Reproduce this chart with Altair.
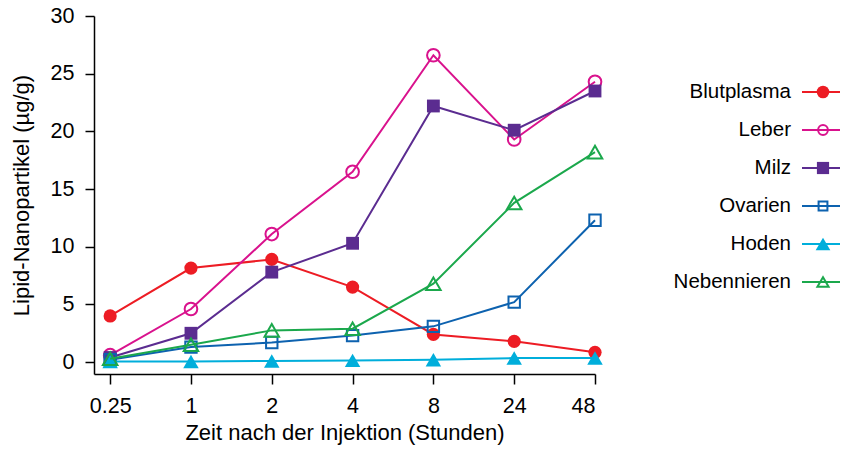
import altair as alt
import pandas as pd

times = ["0.25", "1", "2", "4", "8", "24", "48"]
series = ["Blutplasma", "Leber", "Milz", "Ovarien", "Hoden", "Nebennieren"]
blutplasma = [4.0, 8.15, 8.9, 6.5, 2.4, 1.8, 0.85]
leber = [0.6, 4.6, 11.1, 16.5, 26.6, 19.3, 24.3]
milz = [0.4, 2.5, 7.8, 10.3, 22.2, 20.1, 23.5]
ovarien = [0.2, 1.3, 1.7, 2.3, 3.1, 5.2, 12.3]
hoden = [0.05, 0.05, 0.1, 0.15, 0.2, 0.35, 0.35]
nebennieren = [0.3, 1.5, 2.75, 2.9, 6.8, 13.8, 18.2]
values = [blutplasma, leber, milz, ovarien, hoden, nebennieren]

colors = ["#ED1C24", "#D9128D", "#5B2C90", "#0D62AF", "#00AEDB", "#1BA84C"]
shapes = ["circle", "circle", "square", "square", "triangle-up", "triangle-up"]
filled = [True, False, True, False, True, False]
sizes = [175, 160, 165, 130, 240, 210]

FONT = "Liberation Sans"
label_expr = "[" + ",".join(f"'{t}'" for t in times) + "][datum.value]"

PLOT_W, PLOT_H = 501, 358

xenc = alt.X("idx:Q", scale=alt.Scale(domain=[-0.2, 6], nice=False, zero=False),
             axis=alt.Axis(values=list(range(len(times))), labelExpr=label_expr,
                           title="Zeit nach der Injektion (Stunden)", grid=False,
                           tickSize=10, labelPadding=11, titlePadding=6))
yenc = alt.Y("val:Q", scale=alt.Scale(domain=[-1.03, 30], nice=False, zero=False),
             axis=alt.Axis(values=[0, 5, 10, 15, 20, 25, 30], title="Lipid-Nanopartikel (µg/g)",
                           grid=False, tickSize=9, labelPadding=11, titlePadding=17))

layers = []
for name, vals, col, shp, fl, sz in zip(series, values, colors, shapes, filled, sizes):
    df = pd.DataFrame({"idx": list(range(len(times))), "val": vals, "name": name})
    base = alt.Chart(df)
    line = base.mark_line(color=col, strokeWidth=2).encode(x=xenc, y=yenc)
    if fl:
        pt = base.mark_point(shape=shp, filled=True, color=col, size=sz, opacity=1).encode(x=xenc, y=yenc)
    else:
        pt = base.mark_point(shape=shp, filled=False, color=col, size=sz, strokeWidth=2,
                             opacity=1).encode(x=xenc, y=yenc)
    layers += [line, pt]

data_layer = alt.layer(*layers)

# legend built as marks
leg_layers = []
for i, (name, col, shp, fl, sz) in enumerate(zip(series, colors, shapes, filled, sizes)):
    ldf = pd.DataFrame({"name": [name], "rank": [i]})
    ly = alt.Y("rank:Q", scale=alt.Scale(domain=[0, 5], range=[76, 266], nice=False, zero=False), axis=None)
    lb = alt.Chart(ldf)
    txt = lb.mark_text(align="right", baseline="middle", font=FONT, fontSize=20.5, color="black").encode(
        x=alt.value(697), y=ly, text="name:N")
    rule = lb.mark_rule(color=col, strokeWidth=2).encode(x=alt.value(708), x2=alt.value(751), y=ly)
    if fl:
        p = lb.mark_point(shape=shp, filled=True, color=col, size=sz * 0.9, opacity=1).encode(x=alt.value(729), y=ly)
    else:
        p = lb.mark_point(shape=shp, filled=False, color=col, size=sz * 0.6, strokeWidth=2, opacity=1).encode(x=alt.value(729), y=ly)
    leg_layers += [rule, p, txt]

legend_layer = alt.layer(*leg_layers)

chart = alt.layer(data_layer, legend_layer).resolve_scale(y="independent").properties(
    width=PLOT_W, height=PLOT_H,
    autosize=alt.AutoSizeParams(type="none"),
    padding={"left": 86, "top": 8, "right": 245, "bottom": 80},
).configure_view(stroke=None).configure_axis(
    labelFont=FONT, titleFont=FONT, labelFontSize=21.5, titleFontSize=22,
    labelColor="black", titleColor="black", domainColor="black", tickColor="black",
    domainWidth=1.5, tickWidth=1.5, titleFontWeight="normal",
)

chart.save("out.html", embed_options={"renderer": "svg", "actions": False})
